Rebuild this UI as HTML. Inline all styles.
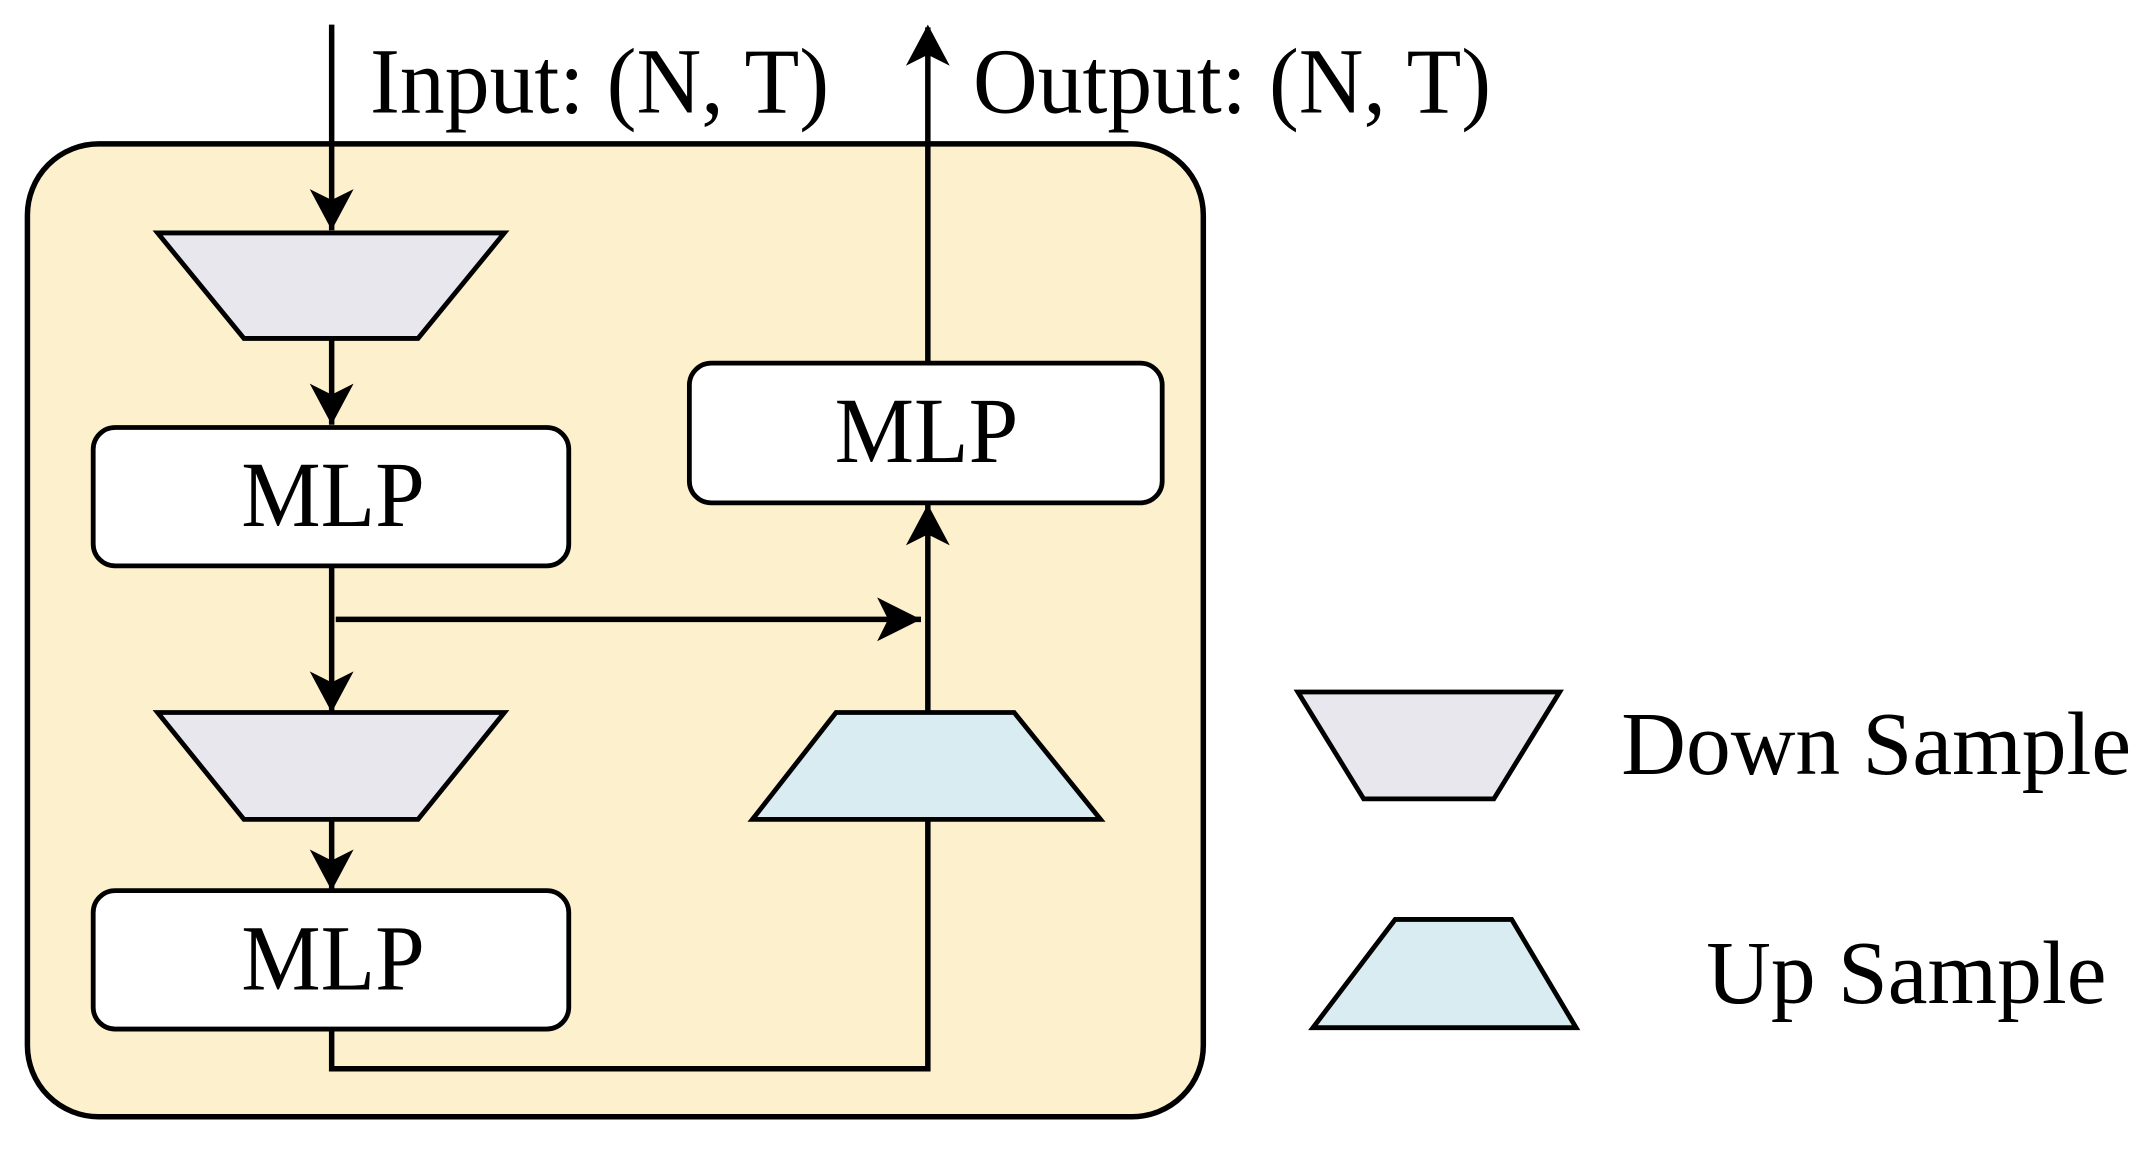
<!DOCTYPE html>
<html><head><meta charset="utf-8"><style>
html,body{margin:0;padding:0;background:#fff;}
svg{display:block;}
text{font-family:"Liberation Serif",serif;fill:#000;}
</style></head><body>
<svg width="2138" height="1151" viewBox="0 0 1560 840" preserveAspectRatio="none" xmlns="http://www.w3.org/2000/svg">
<defs>
<marker id="a" markerWidth="10" markerHeight="10" refX="9" refY="5" orient="auto" markerUnits="userSpaceOnUse" viewBox="0 0 10 10">
<path d="M0,0 L10,5 L0,10 L2.5,5 Z" fill="#000"/>
</marker>
</defs>
<rect x="20" y="105" width="858" height="710" rx="52" fill="#fdf0cc" stroke="#000" stroke-width="4"/>
<g stroke="#000" stroke-width="4" fill="none">
<line x1="242" y1="18" x2="242" y2="168"/>
<line x1="242" y1="247" x2="242" y2="310"/>
<line x1="242" y1="413" x2="242" y2="520"/>
<line x1="245" y1="452" x2="672" y2="452"/>
<line x1="242" y1="598" x2="242" y2="650"/>
<polyline points="242,751 242,780 677,780 677,598"/>
<line x1="677" y1="520" x2="677" y2="368"/>
<line x1="677" y1="265" x2="677" y2="20"/>
</g>
<g fill="#000">
<path d="M242,168 L226,138 L242,146 L258,138 Z"/>
<path d="M242,310 L226,280 L242,288 L258,280 Z"/>
<path d="M242,520 L226,490 L242,498 L258,490 Z"/>
<path d="M242,650 L226,620 L242,628 L258,620 Z"/>
<path d="M672,452 L640,436 L648,452 L640,468 Z"/>
<path d="M677,368 L661,398 L677,390 L693,398 Z"/>
<path d="M677,18 L661,48 L677,40 L693,48 Z"/>
</g>
<g stroke="#000" stroke-width="3.5">
<polygon points="115,170 368,170 305,247 178,247" fill="#e9e7ee"/>
<polygon points="115,520 368,520 305,598 178,598" fill="#e9e7ee"/>
<polygon points="610,520 740,520 803,598 549,598" fill="#d9ecf1"/>
<polygon points="947,505 1138,505 1090,583 995,583" fill="#e9e7ee"/>
<polygon points="1018,671 1103,671 1150,750 958,750" fill="#d9ecf1"/>
<rect x="68" y="312" width="347" height="101" rx="16" fill="#fff"/>
<rect x="68" y="650" width="347" height="101" rx="16" fill="#fff"/>
<rect x="503" y="265" width="345" height="102" rx="16" fill="#fff"/>
</g>
<text x="270" y="82" font-size="68" textLength="335" lengthAdjust="spacingAndGlyphs">Input: (N, T)</text>
<text x="710" y="82" font-size="68" textLength="378" lengthAdjust="spacingAndGlyphs">Output: (N, T)</text>
<text x="176" y="384" font-size="68" textLength="134" lengthAdjust="spacingAndGlyphs">MLP</text>
<text x="176" y="722" font-size="68" textLength="134" lengthAdjust="spacingAndGlyphs">MLP</text>
<text x="609" y="337" font-size="68" textLength="134" lengthAdjust="spacingAndGlyphs">MLP</text>
<text x="1183" y="565" font-size="66" textLength="372" lengthAdjust="spacingAndGlyphs">Down Sample</text>
<text x="1245" y="732" font-size="66" textLength="292" lengthAdjust="spacingAndGlyphs">Up Sample</text>
</svg>
</body></html>
